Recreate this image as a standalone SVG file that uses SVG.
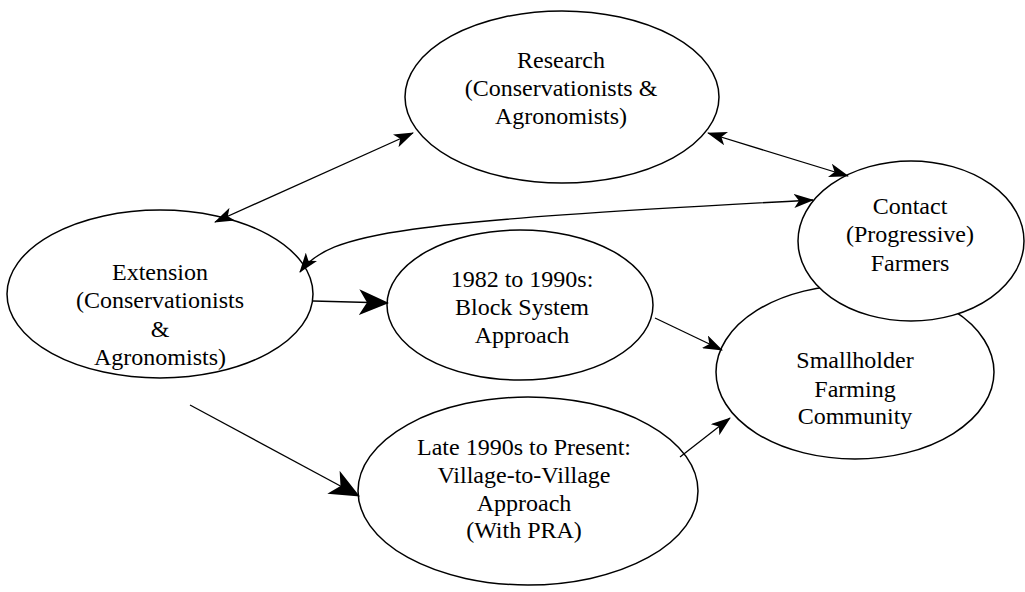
<svg xmlns="http://www.w3.org/2000/svg" width="1025" height="592" viewBox="0 0 1025 592">
<style>
.n{fill:#fff;stroke:#000;stroke-width:1.5}
.t{font-family:"Liberation Serif","Times New Roman",serif;font-size:24px;fill:#000;text-anchor:middle}
.c{fill:none;stroke:#000;stroke-width:1.3}
</style>
<defs>
<marker id="a" viewBox="0 0 20 14" refX="19" refY="7" markerWidth="20" markerHeight="14" markerUnits="userSpaceOnUse" orient="auto-start-reverse"><path d="M0,0 L20,7 L0,14 L5,7 Z" fill="#000"/></marker>
<marker id="b" viewBox="0 0 30 26" refX="29" refY="13" markerWidth="30" markerHeight="26" markerUnits="userSpaceOnUse" orient="auto"><path d="M0,0 L30,13 L0,26 L8,13 Z" fill="#000"/></marker>
</defs>
<rect width="1025" height="592" fill="#fff"/>
<g id="smallholder"><ellipse class="n" cx="855" cy="372" rx="139" ry="87"/><text class="t"><tspan x="855" y="368">Smallholder</tspan><tspan x="855" y="397">Farming</tspan><tspan x="855" y="424">Community</tspan></text></g>
<g id="contact"><ellipse class="n" cx="911" cy="241" rx="113" ry="80"/><text class="t"><tspan x="910" y="214">Contact</tspan><tspan x="910" y="242">(Progressive)</tspan><tspan x="910" y="271">Farmers</tspan></text></g>
<g id="research"><ellipse class="n" cx="562" cy="97" rx="157" ry="86"/><text class="t"><tspan x="561" y="68">Research</tspan><tspan x="561" y="96">(Conservationists &amp;</tspan><tspan x="561" y="124">Agronomists)</tspan></text></g>
<g id="extension"><ellipse class="n" cx="160" cy="294" rx="153" ry="84"/><text class="t"><tspan x="160" y="280">Extension</tspan><tspan x="160" y="308">(Conservationists</tspan><tspan x="160" y="337">&amp;</tspan><tspan x="160" y="365">Agronomists)</tspan></text></g>
<g id="block"><ellipse class="n" cx="520" cy="305" rx="133" ry="75"/><text class="t"><tspan x="522" y="287">1982 to 1990s:</tspan><tspan x="522" y="315">Block System</tspan><tspan x="522" y="343">Approach</tspan></text></g>
<g id="village"><ellipse class="n" cx="528" cy="491" rx="170" ry="94"/><text class="t"><tspan x="524" y="455">Late 1990s to Present:</tspan><tspan x="524" y="483">Village-to-Village</tspan><tspan x="524" y="511">Approach</tspan><tspan x="524" y="538">(With PRA)</tspan></text></g>
<g id="connectors">
<line class="c" x1="215" y1="222" x2="413" y2="133" marker-start="url(#a)" marker-end="url(#a)"/>
<line class="c" x1="708" y1="133" x2="848" y2="176" marker-start="url(#a)" marker-end="url(#a)"/>
<path class="c" d="M300,272 C330,232 400,222 813,200" marker-start="url(#a)" marker-end="url(#a)"/>
<line class="c" x1="313" y1="301" x2="388" y2="303" marker-end="url(#b)"/>
<line class="c" x1="190" y1="405" x2="359" y2="496" marker-end="url(#b)"/>
<line class="c" x1="655" y1="318" x2="722" y2="350" marker-end="url(#a)"/>
<line class="c" x1="680" y1="457" x2="730" y2="418" marker-end="url(#a)"/>
</g>
</svg>
